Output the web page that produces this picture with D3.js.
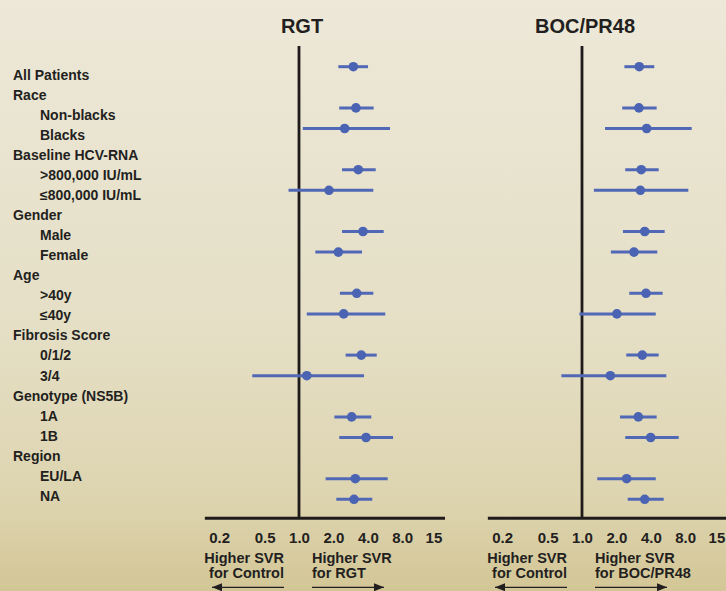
<!DOCTYPE html>
<html>
<head>
<meta charset="utf-8">
<script src="https://cdn.jsdelivr.net/npm/d3@7"></script>
<style>
  html, body { margin: 0; padding: 0; }
  body { width: 726px; height: 591px; overflow: hidden; }
  svg { display: block; font-family: "Liberation Sans", Arial, sans-serif; }
</style>
</head>
<body>
<svg id="chart" width="726" height="591"></svg>
<script>
// ---------------- data ----------------
const categories = [
  "All Patients", "Race", "Non-blacks", "Blacks", "Baseline HCV-RNA",
  ">800,000 IU/mL", "≤800,000 IU/mL", "Gender", "Male", "Female", "Age",
  ">40y", "≤40y", "Fibrosis Score", "0/1/2", "3/4", "Genotype (NS5B)",
  "1A", "1B", "Region", "EU/LA", "NA"
];
const indented = [0,0,1,1,0,1,1,0,1,1,0,1,1,0,1,1,0,1,1,0,1,1];

const panelTitles = ["RGT", "BOC/PR48"];
const favourLabels = [["Higher SVR", "for RGT"], ["Higher SVR", "for BOC/PR48"]];
const controlLabel = ["Higher SVR", "for Control"];

// odds ratios (null = heading row)
const rgtEst = [2.99, null, 3.15, 2.51, null, 3.30, 1.83, null, 3.63, 2.21, null, 3.20, 2.46, null, 3.51, 1.17, null, 2.89, 3.86, null, 3.11, 3.03];
const rgtLo  = [2.21, null, 2.25, 1.08, null, 2.38, 0.81, null, 2.38, 1.39, null, 2.28, 1.17, null, 2.56, 0.39, null, 2.04, 2.25, null, 1.71, 2.12];
const rgtHi  = [4.02, null, 4.50, 6.26, null, 4.69, 4.47, null, 5.51, 3.56, null, 4.47, 5.69, null, 4.79, 3.71, null, 4.29, 6.65, null, 5.97, 4.38];

const bocEst = [3.17, null, 3.15, 3.68, null, 3.30, 3.24, null, 3.54, 2.85, null, 3.63, 2.02, null, 3.37, 1.77, null, 3.11, 3.99, null, 2.46, 3.54];
const bocLo  = [2.35, null, 2.25, 1.59, null, 2.39, 1.27, null, 2.28, 1.79, null, 2.59, 0.95, null, 2.44, 0.66, null, 2.15, 2.39, null, 1.36, 2.51];
const bocHi  = [4.29, null, 4.50, 9.12, null, 4.69, 8.52, null, 5.29, 4.56, null, 5.08, 4.42, null, 4.69, 5.47, null, 4.50, 7.02, null, 4.42, 5.19];

const tickValues = [0.2, 0.5, 1, 2, 4, 8, 15];
const tickLabels = ["0.2", "0.5", "1.0", "2.0", "4.0", "8.0", "15"];

// ---------------- layout ----------------
const W = 726, H = 591;
const svg = d3.select("#chart");
const textColor = "#231f20";
const markColor = "#4a63b3";
const lineColor = "#5068b5";

const defs = svg.append("defs");
const grad = defs.append("linearGradient").attr("id", "bg")
  .attr("x1", 0).attr("y1", 0).attr("x2", 0).attr("y2", 1);
[[0, "#ede8d8"], [0.55, "#e5dfc6"], [0.85, "#ddd4af"], [1, "#d3c696"]]
  .forEach(([o, c]) => grad.append("stop").attr("offset", o).attr("stop-color", c));

defs.append("marker").attr("id", "arrow")
  .attr("viewBox", "0 0 10 8").attr("refX", 10).attr("refY", 4)
  .attr("markerWidth", 10).attr("markerHeight", 8)
  .attr("markerUnits", "userSpaceOnUse").attr("orient", "auto")
  .append("path").attr("d", "M0,0 L10,4 L0,8 Z").attr("fill", textColor);

svg.append("rect").attr("width", W).attr("height", H).attr("fill", "url(#bg)");

const rowIdx = d3.range(categories.length);
const markY = d3.scaleLinear().domain([0, 21]).range([66.7, 499.3]);
const labelY = d3.scaleLinear().domain([0, 21]).range([80, 500.7]);

// row labels
svg.append("g").selectAll("text").data(rowIdx).join("text")
  .attr("x", i => indented[i] ? 40 : 13)
  .attr("y", i => labelY(i))
  .attr("font-size", 14).attr("font-weight", "bold").attr("fill", textColor)
  .text(i => categories[i]);

const axisY = 518.3;
const panels = [
  { one: 299, est: rgtEst, lo: rgtLo, hi: rgtHi, rightEnd: 445 },
  { one: 582, est: bocEst, lo: bocLo, hi: bocHi, rightEnd: 730 }
];
const pxPerDoubling = 34.4;
const dMin = 0.15, dMax = 18.9;

panels.forEach((p, k) => {
  const x = d3.scaleLog().domain([dMin, dMax])
    .range([p.one + pxPerDoubling * Math.log2(dMin), p.one + pxPerDoubling * Math.log2(dMax)]);
  const g = svg.append("g");

  // title
  g.append("text").attr("x", x(1) + 3).attr("y", 32.7)
    .attr("text-anchor", "middle").attr("font-size", 20).attr("font-weight", "bold")
    .attr("fill", textColor).text(panelTitles[k]);

  // reference line at 1
  g.append("line").attr("x1", x(1)).attr("x2", x(1))
    .attr("y1", 46).attr("y2", axisY)
    .attr("stroke", "#1e1b1a").attr("stroke-width", 2.8);

  // axis
  const axis = d3.axisBottom(x).tickValues(tickValues)
    .tickFormat((d, i) => tickLabels[i]).tickSize(0).tickSizeOuter(0);
  const ag = g.append("g").attr("transform", `translate(0,${axisY})`).call(axis);
  ag.select(".domain").attr("stroke", "#1e1b1a").attr("stroke-width", 3)
    .attr("d", `M${x.range()[0]},0H${p.rightEnd}`);
  ag.selectAll(".tick text").attr("y", 25).attr("dy", 0)
    .attr("font-size", 15).attr("font-weight", "bold").attr("fill", textColor)
    .attr("font-family", "Liberation Sans, Arial, sans-serif");

  // CI bars and points
  const rows = rowIdx.filter(i => p.est[i] != null);
  g.append("g").selectAll("line").data(rows).join("line")
    .attr("x1", i => x(p.lo[i])).attr("x2", i => x(p.hi[i]))
    .attr("y1", i => markY(i)).attr("y2", i => markY(i))
    .attr("stroke", lineColor).attr("stroke-width", 3);
  g.append("g").selectAll("circle").data(rows).join("circle")
    .attr("cx", i => x(p.est[i])).attr("cy", i => markY(i)).attr("r", 4.8)
    .attr("fill", markColor);

  // direction annotations
  const lx = x(1) - 15, rx = x(1) + 13;
  controlLabel.forEach((t, j) => {
    g.append("text").attr("x", lx).attr("y", 563 + j * 14.5)
      .attr("text-anchor", "end").attr("font-size", 14.5).attr("font-weight", "bold")
      .attr("fill", textColor).text(t);
  });
  favourLabels[k].forEach((t, j) => {
    g.append("text").attr("x", rx).attr("y", 563 + j * 14.5)
      .attr("font-size", 14.5).attr("font-weight", "bold")
      .attr("fill", textColor).text(t);
  });
  g.append("line").attr("x1", x(1) - 15).attr("x2", x(1) - 87)
    .attr("y1", 587.3).attr("y2", 587.3)
    .attr("stroke", textColor).attr("stroke-width", 1.2).attr("marker-end", "url(#arrow)");
  g.append("line").attr("x1", x(1) + 13).attr("x2", x(1) + 85)
    .attr("y1", 587.3).attr("y2", 587.3)
    .attr("stroke", textColor).attr("stroke-width", 1.2).attr("marker-end", "url(#arrow)");
});
</script>
</body>
</html>
